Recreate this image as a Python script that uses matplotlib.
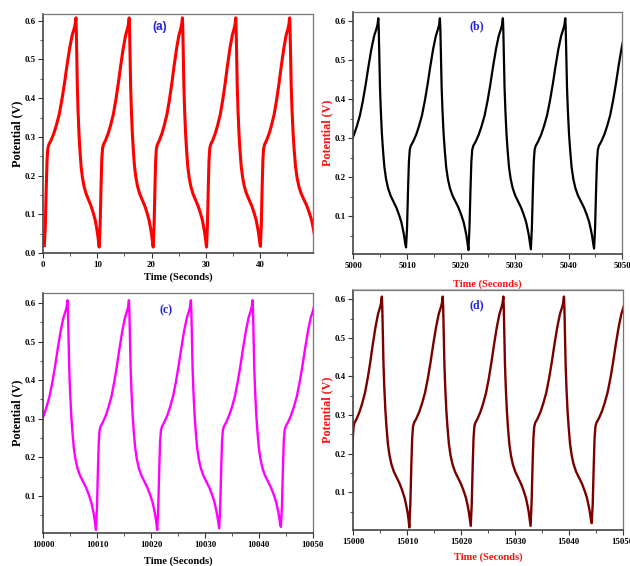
import numpy as np
import matplotlib
matplotlib.use('Agg')
import matplotlib.pyplot as plt
from matplotlib.lines import Line2D
from matplotlib.ticker import MultipleLocator, FormatStrFormatter

plt.rcParams['font.family'] = ['Liberation Serif', 'DejaVu Serif']
plt.rcParams['font.weight'] = 'bold'

# one charge/discharge cycle (fraction of the step, volts)
CHARGE_U = [0.0, 0.03, 0.06, 0.085, 0.11, 0.14, 0.21, 0.30, 0.38, 0.47,
            0.556, 0.635, 0.713, 0.80, 0.88, 0.946, 0.975, 1.0]
CHARGE_V = [None, 0.07, 0.17, 0.24, 0.27, 0.28, 0.291, 0.309, 0.33, 0.358,
            0.396, 0.437, 0.482, 0.528, 0.562, 0.58, 0.59, 0.607]
DISCH_W = [0.0, 0.015, 0.04, 0.06, 0.09, 0.13, 0.17, 0.22, 0.28, 0.35,
           0.44, 0.54, 0.65, 0.74, 0.83, 0.89, 0.93, 0.97, 1.0]
DISCH_V = [0.607, 0.58, 0.50, 0.43, 0.37, 0.31, 0.268, 0.225, 0.195, 0.172,
           0.153, 0.138, 0.122, 0.105, 0.085, 0.065, 0.05, 0.03, None]

# minima / peaks of each panel (seconds)
min_t_a = [0.2, 10.33, 20.3, 30.15, 40.1, 50.4]
min_v_a = [0.02, 0.016, 0.016, 0.016, 0.018, 0.02]
peak_t_a = [6.03, 15.87, 25.7, 35.55, 45.5]

min_t_b = [4998.2, 5009.8, 5021.4, 5033.0, 5044.75]
min_v_b = [0.02, 0.02, 0.013, 0.015, 0.017]
peak_t_b = [5004.65, 5016.1, 5027.8, 5039.4, 5051.1]

min_t_c = [9998.2, 10009.78, 10021.15, 10032.65, 10044.1]
min_v_c = [0.02, 0.012, 0.012, 0.016, 0.02]
peak_t_c = [10004.5, 10015.9, 10027.4, 10038.85, 10050.4]

min_t_d = [14999.4, 15010.4, 15021.8, 15032.9, 15044.25]
min_v_d = [0.02, 0.009, 0.013, 0.013, 0.02]
peak_t_d = [15005.3, 15016.6, 15027.85, 15039.1, 15050.5]


def build(min_t, min_v, peak_t):
    t, v = [], []
    for i, tp in enumerate(peak_t):
        t0 = min_t[i]
        cv = list(CHARGE_V)
        cv[0] = min_v[i]
        t += [t0 + u * (tp - t0) for u in CHARGE_U]
        v += cv
        if i + 1 < len(min_t):
            t1 = min_t[i + 1]
            dv = list(DISCH_V)
            dv[-1] = min_v[i + 1]
            t += [tp + w * (t1 - tp) for w in DISCH_W[1:]]
            v += dv[1:]
    return np.array(t), np.array(v)


fig = plt.figure(figsize=(6.3, 5.66), dpi=100)

panels = [
    dict(rect=[0.0687, 0.5525, 0.428, 0.4228], data=(min_t_a, min_v_a, peak_t_a),
         color='#ff0000', lw=2.2, xlim=(0, 49.8), ylim=(0, 0.617),
         yticks=[0.0, 0.1, 0.2, 0.3, 0.4, 0.5, 0.6], lab='(a)', labxy=(0.43, 0.946),
         lab_font='Liberation Sans', axcol='black', xpad=2.5),
    dict(rect=[0.5608, 0.5512, 0.427, 0.4276], data=(min_t_b, min_v_b, peak_t_b),
         color='black', lw=1.6, xlim=(5000, 5050), ylim=(0.003, 0.623),
         yticks=[0.1, 0.2, 0.3, 0.4, 0.5, 0.6], lab='(b)', labxy=(0.459, 0.94),
         lab_font='Liberation Serif', axcol='#ff1010', xpad=7),
    dict(rect=[0.0687, 0.0578, 0.4276, 0.424], data=(min_t_c, min_v_c, peak_t_c),
         color='#ff00ff', lw=1.7, xlim=(10000, 10050), ylim=(0.0034, 0.625),
         yticks=[0.1, 0.2, 0.3, 0.4, 0.5, 0.6], lab='(c)', labxy=(0.455, 0.93),
         lab_font='Liberation Serif', axcol='black', xpad=5.5),
    dict(rect=[0.5608, 0.0636, 0.4276, 0.424], data=(min_t_d, min_v_d, peak_t_d),
         color='#7a0000', lw=1.7, xlim=(15000, 15050), ylim=(0.0023, 0.624),
         yticks=[0.1, 0.2, 0.3, 0.4, 0.5, 0.6], lab='(d)', labxy=(0.457, 0.935),
         lab_font='Liberation Serif', axcol='#ff1010', xpad=5),
]

for p in panels:
    ax = fig.add_axes(p['rect'])
    t, v = build(*p['data'])
    ax.plot(t, v, color=p['color'], lw=p['lw'], solid_joinstyle='round')
    ax.set_xlim(*p['xlim'])
    ax.set_ylim(*p['ylim'])
    x0 = p['xlim'][0]
    ax.set_xticks([x0 + k * 10 for k in range(6) if x0 + k * 10 <= p['xlim'][1] + 0.01])
    ax.xaxis.set_minor_locator(MultipleLocator(5))
    ax.set_yticks(p['yticks'])
    ax.yaxis.set_minor_locator(MultipleLocator(0.05))
    ax.yaxis.set_major_formatter(FormatStrFormatter('%.1f'))
    ax.tick_params(which='major', direction='out', length=3.5, width=0.8,
                   labelsize=6.3, pad=2, colors='#333333', labelcolor='black')
    ax.tick_params(which='minor', direction='out', length=2, width=0.6,
                   colors='#333333')
    for lbl in ax.get_xticklabels() + ax.get_yticklabels():
        lbl.set_fontweight('bold')
    for s in ['left', 'bottom']:
        ax.spines[s].set_color('#444444')
        ax.spines[s].set_linewidth(1.2)
    for s in ['top', 'right']:
        ax.spines[s].set_color('#777777')
        ax.spines[s].set_linewidth(0.9)
    ax.set_xlabel('Time (Seconds)', fontsize=7.6, fontweight='bold',
                  color=p['axcol'], labelpad=p['xpad'])
    ax.set_ylabel('Potential (V)', fontsize=8.7, fontweight='bold',
                  color=p['axcol'], labelpad=0.5)
    ax.text(p['labxy'][0], p['labxy'][1], p['lab'], transform=ax.transAxes,
            ha='center', va='center', fontsize=8.5, fontweight='bold',
            color='#2323e0', family=p['lab_font'])

# thin grey rule under panel (b)
fig.add_artist(Line2D([0.5608, 0.988], [0.4894, 0.4894], color='#bbbbbb', lw=0.8))

fig.savefig('out.png', dpi=100)
